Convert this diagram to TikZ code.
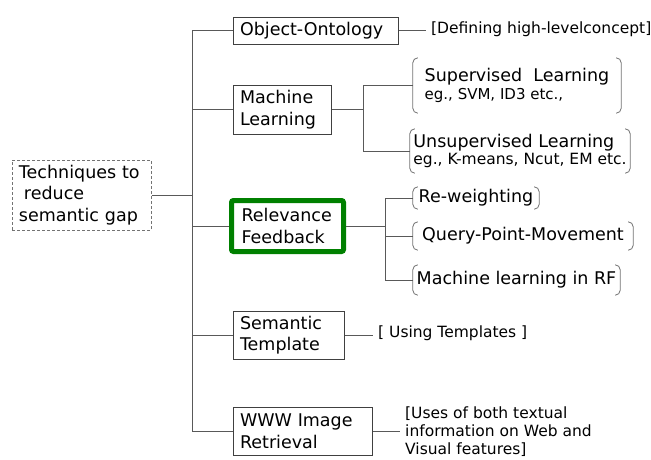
\documentclass[tikz,border=0pt]{standalone}
\usepackage{fontspec}
\setmainfont{DejaVu Sans}
\usepackage{tikz}
\usetikzlibrary{positioning}
\newcommand{\parens}[1]{%
  \draw[paren] ([xshift=5]#1.north west) -- (#1.north west) -- (#1.south west) -- ([xshift=5]#1.south west);
  \draw[paren] ([xshift=-5]#1.north east) -- (#1.north east) -- (#1.south east) -- ([xshift=-5]#1.south east);}

\begin{document}
\begin{tikzpicture}[x=1pt,y=-1pt,
  every node/.style={font=\fontsize{17.5}{21.5}\selectfont,align=left},
  box/.style={draw=black!75,line width=1,inner xsep=7,inner ysep=0},
  note/.style={font=\fontsize{15.5}{19}\selectfont,anchor=west,inner xsep=5},
  item/.style={inner xsep=3,inner ysep=0},
  paren/.style={draw=black!55,line width=0.8,rounded corners=5},
  link/.style={draw=black!65,line width=1}
]
  \useasboundingbox (0,0) rectangle (651,459);

  \node[box,dashed,dash pattern=on 3 off 2,draw=black!55,text width=125,minimum height=70] (root) at (81.5,195)
    {Techniques to\\\hspace*{5pt}reduce\\semantic gap};

  \node[box,text width=151,minimum height=27] (onto) at (315.5,30.5) {Object-Ontology};
  \node[box,text width=84,minimum height=49] (ml) at (282,109.5) {Machine\\Learning};
  \node[box,draw=green!50!black,line width=5,rounded corners=2,inner xsep=10,text width=92,minimum height=51] (rf) at (287.5,226)
    {Relevance\\Feedback};
  \node[box,text width=97,minimum height=48] (tmpl) at (288.5,335) {Semantic\\Template};
  \node[box,text width=125,minimum height=48] (www) at (302.5,431) {WWW Image\\Retrieval};

  % trunk
  \coordinate (trunk) at (192,0);
  \draw[link] (trunk |- onto.west) -- (trunk |- www.west);
  \draw[link] (root.east) -- (root.east -| trunk);
  \foreach \n in {onto,ml,rf,tmpl,www}
    \draw[link] (trunk |- \n.west) -- (\n.west);

  % notes
  \node[note] (ontonote) at (426,29) {[Defining high-levelconcept]};
  \node[note] (tmplnote) at (373,333) {[ Using Templates ]};
  \node[note,font=\fontsize{15.5}{18}\selectfont] (wwwnote) at (400,432)
    {[Uses of both textual\\information on Web and\\Visual features]};
  \draw[link] (onto.east) -- (onto.east -| ontonote.west);
  \draw[link] (tmpl.east) -- (tmpl.east -| tmplnote.west);
  \draw[link] (www.east) -- (www.east -| wwwnote.west);

  % machine learning
  \node[item,minimum width=208,minimum height=55] (sup) at (517,85.5)
    {Supervised\ \ Learning\\[-4pt]{\fontsize{15}{17}\selectfont eg., SVM, ID3 etc.,}};
  \node[item,minimum width=220,minimum height=44] (unsup) at (520,151)
    {Unsupervised Learning\\[-4.5pt]{\fontsize{15.5}{17}\selectfont eg., K-means, Ncut, EM etc.}};
  \parens{sup}
  \parens{unsup}
  \coordinate (mlj) at (363,0);
  \draw[link] (ml.east) -- (ml.east -| mlj);
  \draw[link] (mlj |- sup.west) -- (mlj |- unsup.west);
  \draw[link] (mlj |- sup.west) -- (sup.west);
  \draw[link] (mlj |- unsup.west) -- (unsup.west);

  % relevance feedback
  \node[item,minimum width=126,minimum height=22] (rw) at (476,198) {Re-weighting};
  \node[item,minimum width=220,minimum height=28] (qpm) at (523,236) {Query-Point-Movement};
  \node[item,minimum width=207,minimum height=30] (mlrf) at (516.5,280) {Machine learning in RF};
  \parens{rw}
  \parens{qpm}
  \parens{mlrf}
  \coordinate (rfj) at (385,0);
  \draw[link] (rf.east) -- (rf.east -| rfj);
  \draw[link] (rfj |- rw.west) -- (rfj |- mlrf.west);
  \foreach \n in {rw,qpm,mlrf}
    \draw[link] (rfj |- \n.west) -- (\n.west);
\end{tikzpicture}
\end{document}
